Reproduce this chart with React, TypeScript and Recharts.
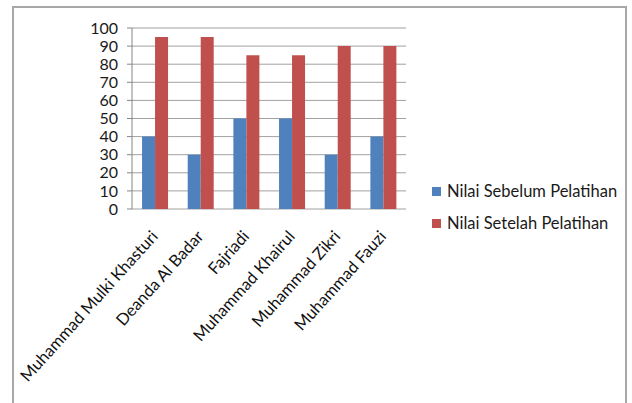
import { BarChart, Bar, XAxis, YAxis, CartesianGrid, Legend } from 'recharts'

const names = [
  'Muhammad Mulki Khasturi',
  'Deanda Al Badar',
  'Fajriadi',
  'Muhammad Khairul',
  'Muhammad Zikri',
  'Muhammad Fauzi',
]
const sebelum = [40, 30, 50, 50, 30, 40]
const setelah = [95, 95, 85, 85, 90, 90]
const yTicks = [0, 10, 20, 30, 40, 50, 60, 70, 80, 90, 100]
const boundaryTicks = [0, 1, 2, 3, 4, 5, 6]

const SERIES = [
  { key: 'sebelum', name: 'Nilai Sebelum Pelatihan', color: '#4f81bd' },
  { key: 'setelah', name: 'Nilai Setelah Pelatihan', color: '#c0504d' },
]

const data = names.map((name, i) => ({
  name,
  idx: i + 0.5,
  sebelum: sebelum[i],
  setelah: setelah[i],
}))

const FONT = 'Lato, "Open Sans", sans-serif'

function NameTick({ x, y, payload }: any) {
  return (
    <g transform={`translate(${x + 4},${y + 20})`}>
      <text
        transform="rotate(-48)"
        textAnchor="end"
        fontSize={16.5}
        fontFamily={FONT}
        fill="#111"
      >
        {payload.value}
      </text>
    </g>
  )
}

function LegendBox() {
  return (
    <div style={{ fontFamily: FONT, fontSize: 16.5, color: '#1a1a1a' }}>
      {SERIES.map((s) => (
        <div key={s.key} style={{ display: 'flex', alignItems: 'center', height: 32 }}>
          <span style={{ width: 9, height: 9, background: s.color, marginRight: 6, display: 'inline-block' }} />
          <span>{s.name}</span>
        </div>
      ))}
    </div>
  )
}

export default function App() {
  return (
    <div style={{ position: 'absolute', left: 0, top: 0, width: 632, height: 403, overflow: 'hidden', background: '#fff' }}>
      <div
        style={{
          position: 'absolute',
          left: 12,
          top: 6,
          width: 615,
          height: 460,
          border: '2px solid #a8a8a8',
          boxSizing: 'border-box',
        }}
      />
      <BarChart
        width={632}
        height={403}
        data={data}
        margin={{ top: 28, right: 226, left: 82, bottom: 4 }}
        barCategoryGap="22%"
        barGap={0}
        style={{ position: 'absolute', left: 0, top: 0 }}
      >
        <CartesianGrid vertical={false} stroke="#a0a0a0" />
        <XAxis
          xAxisId="b"
          dataKey="idx"
          type="number"
          domain={[0, 6]}
          ticks={boundaryTicks}
          tickFormatter={() => ''}
          height={0}
          stroke="#868686"
          tickSize={5}
        />
        <XAxis
          dataKey="name"
          interval={0}
          height={190}
          axisLine={false}
          tickLine={false}
          tick={<NameTick />}
        />
        <YAxis
          domain={[0, 100]}
          ticks={yTicks}
          interval={0}
          width={50}
          stroke="#868686"
          tickSize={5}
          tickMargin={9}
          tick={{ fontSize: 16, fontFamily: FONT, fill: '#1a1a1a' }}
        />
        <Legend
          layout="vertical"
          align="center"
          verticalAlign="middle"
          wrapperStyle={{ left: 432, top: 175, width: 200, height: 64 }}
          content={<LegendBox />}
        />
        {SERIES.map((s) => (
          <Bar key={s.key} dataKey={s.key} name={s.name} fill={s.color} isAnimationActive={false} />
        ))}
      </BarChart>
    </div>
  )
}
